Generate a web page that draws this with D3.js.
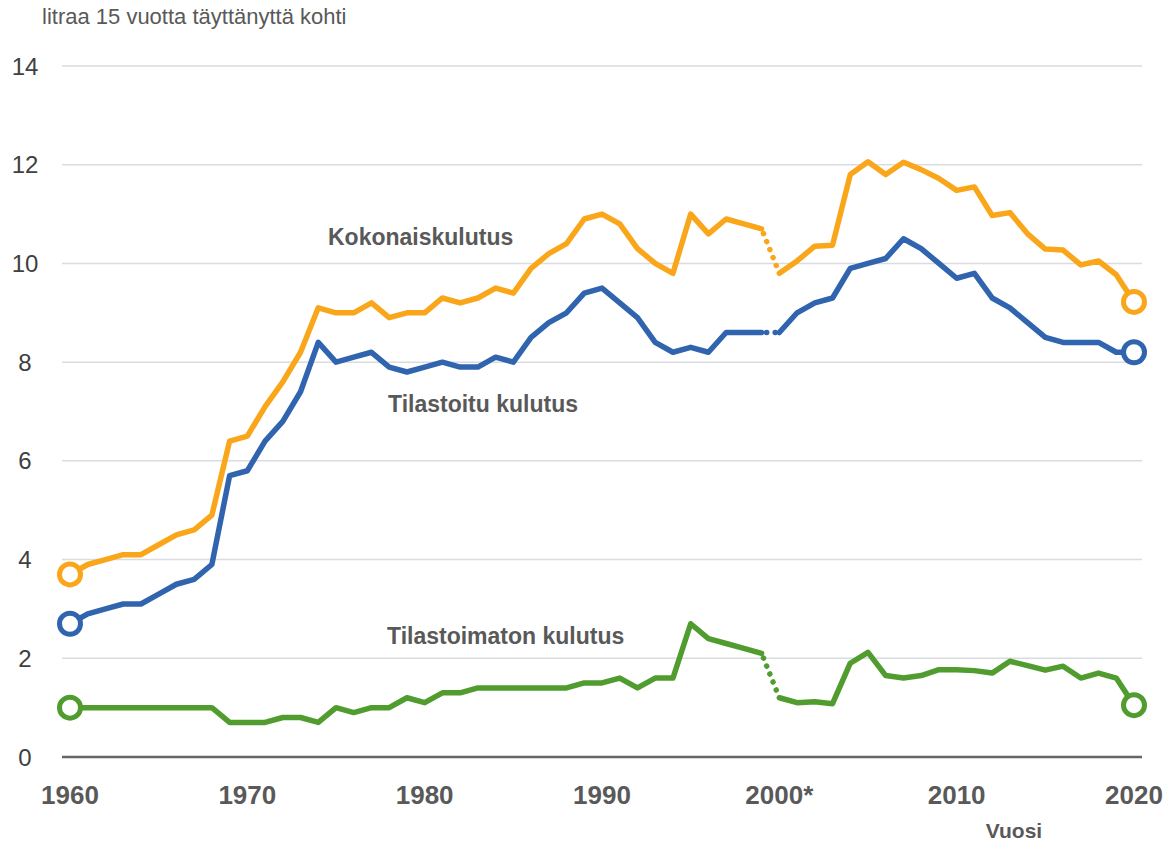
<!DOCTYPE html>
<html>
<head>
<meta charset="utf-8">
<script src="https://cdn.jsdelivr.net/npm/d3@7"></script>
<style>
  body { margin: 0; background: #fff; }
  svg text { font-family: "Liberation Sans", Arial, sans-serif; }
</style>
</head>
<body>
<div id="chart"></div>
<script>
// Data
var years = d3.range(1960, 2021);

var total = [3.7, 3.9, 4.0, 4.1, 4.1, 4.3, 4.5, 4.6, 4.9, 6.4,
  6.5, 7.1, 7.6, 8.2, 9.1, 9.0, 9.0, 9.2, 8.9, 9.0,
  9.0, 9.3, 9.2, 9.3, 9.5, 9.4, 9.9, 10.2, 10.4, 10.9,
  11.0, 10.8, 10.3, 10.0, 9.8, 11.0, 10.6, 10.9, 10.8, 10.7,
  9.8, 10.05, 10.35, 10.37, 11.8, 12.06, 11.8, 12.05, 11.9, 11.72,
  11.48, 11.55, 10.97, 11.03, 10.6, 10.29, 10.27, 9.97, 10.05, 9.77,
  9.22];

var registered = [2.7, 2.9, 3.0, 3.1, 3.1, 3.3, 3.5, 3.6, 3.9, 5.7,
  5.8, 6.4, 6.8, 7.4, 8.4, 8.0, 8.1, 8.2, 7.9, 7.8,
  7.9, 8.0, 7.9, 7.9, 8.1, 8.0, 8.5, 8.8, 9.0, 9.4,
  9.5, 9.2, 8.9, 8.4, 8.2, 8.3, 8.2, 8.6, 8.6, 8.6,
  8.6, 9.0, 9.2, 9.3, 9.9, 10.0, 10.1, 10.5, 10.3, 10.0,
  9.7, 9.8, 9.3, 9.1, 8.8, 8.5, 8.4, 8.4, 8.4, 8.2,
  8.2];

var unregistered = [1.0, 1.0, 1.0, 1.0, 1.0, 1.0, 1.0, 1.0, 1.0, 0.7,
  0.7, 0.7, 0.8, 0.8, 0.7, 1.0, 0.9, 1.0, 1.0, 1.2,
  1.1, 1.3, 1.3, 1.4, 1.4, 1.4, 1.4, 1.4, 1.4, 1.5,
  1.5, 1.6, 1.4, 1.6, 1.6, 2.7, 2.4, 2.3, 2.2, 2.1,
  1.2, 1.1, 1.12, 1.08, 1.9, 2.12, 1.65, 1.6, 1.65, 1.77,
  1.77, 1.75, 1.7, 1.94, 1.85, 1.76, 1.84, 1.6, 1.7, 1.6,
  1.05];

var yTicks = [0, 2, 4, 6, 8, 10, 12, 14];
var xTicks = [1960, 1970, 1980, 1990, 2000, 2010, 2020];
var xTickLabels = ["1960", "1970", "1980", "1990", "2000*", "2010", "2020"];

var seriesNames = ["Kokonaiskulutus", "Tilastoitu kulutus", "Tilastoimaton kulutus"];
var seriesData = [total, registered, unregistered];
var seriesColors = ["#FAA61A", "#3064AE", "#519C2F"];
var breakYear = 1999; // dotted link 1999 -> 2000

// Section: setup
var width = 1172;
var height = 845;

var svg = d3.select("#chart")
  .append("svg")
  .attr("width", width)
  .attr("height", height);

var x = d3.scaleLinear().domain([1960, 2020]).range([70, 1134]);
var y = d3.scaleLinear().domain([0, 14]).range([757, 66]);

// grid lines
svg.append("g")
  .selectAll("line")
  .data(yTicks.filter(function(d) { return d > 0; }))
  .enter()
  .append("line")
  .attr("x1", 62)
  .attr("x2", 1142)
  .attr("y1", function(d) { return y(d); })
  .attr("y2", function(d) { return y(d); })
  .attr("stroke", "#D9DCE1")
  .attr("stroke-width", 1.5);

// y tick labels
svg.append("g")
  .selectAll("text")
  .data(yTicks)
  .enter()
  .append("text")
  .attr("x", 25)
  .attr("y", function(d) { return y(d) + 8.5; })
  .attr("text-anchor", "middle")
  .attr("font-size", 24)
  .attr("fill", "#404040")
  .text(function(d) { return d; });

// x axis line
svg.append("line")
  .attr("x1", 62)
  .attr("x2", 1142)
  .attr("y1", y(0))
  .attr("y2", y(0))
  .attr("stroke", "#666")
  .attr("stroke-width", 2.5);

// x tick labels
svg.append("g")
  .selectAll("text")
  .data(xTicks)
  .enter()
  .append("text")
  .attr("x", function(d) { return x(d); })
  .attr("y", 804)
  .attr("text-anchor", "middle")
  .attr("font-size", 26)
  .attr("font-weight", "bold")
  .attr("fill", "#595959")
  .text(function(d, i) { return xTickLabels[i]; });

// title & axis title
svg.append("text")
  .attr("x", 42)
  .attr("y", 24)
  .attr("font-size", 22)
  .attr("fill", "#595959")
  .text("litraa 15 vuotta täyttänyttä kohti");

svg.append("text")
  .attr("x", 1014)
  .attr("y", 838)
  .attr("text-anchor", "middle")
  .attr("font-size", 21)
  .attr("font-weight", "bold")
  .attr("fill", "#595959")
  .text("Vuosi");

// lines
var line = d3.line()
  .x(function(d) { return x(d[0]); })
  .y(function(d) { return y(d[1]); });

seriesData.forEach(function(vals, s) {
  var pts = years.map(function(yr, i) { return [yr, vals[i]]; });
  var before = pts.filter(function(p) { return p[0] <= breakYear; });
  var after = pts.filter(function(p) { return p[0] >= breakYear + 1; });
  var link = pts.filter(function(p) { return p[0] === breakYear || p[0] === breakYear + 1; });

  [before, after].forEach(function(seg) {
    svg.append("path")
      .datum(seg)
      .attr("d", line)
      .attr("fill", "none")
      .attr("stroke", seriesColors[s])
      .attr("stroke-width", 5.5)
      .attr("stroke-linejoin", "round")
      .attr("stroke-linecap", "round");
  });

  svg.append("path")
    .datum(link)
    .attr("d", line)
    .attr("fill", "none")
    .attr("stroke", seriesColors[s])
    .attr("stroke-width", 5.5)
    .attr("stroke-linecap", "round")
    .attr("stroke-dasharray", "0.1,8.5")
    .attr("stroke-dashoffset", -5);

  // end markers
  [pts[0], pts[pts.length - 1]].forEach(function(p) {
    svg.append("circle")
      .attr("cx", x(p[0]))
      .attr("cy", y(p[1]))
      .attr("r", 10.5)
      .attr("fill", "#fff")
      .attr("stroke", seriesColors[s])
      .attr("stroke-width", 5);
  });
});

// series labels
var labelPos = [[328, 245], [388, 412], [387, 644]];
svg.append("g")
  .selectAll("text")
  .data(seriesNames)
  .enter()
  .append("text")
  .attr("x", function(d, i) { return labelPos[i][0]; })
  .attr("y", function(d, i) { return labelPos[i][1]; })
  .attr("font-size", 23)
  .attr("font-weight", "bold")
  .attr("fill", "#595959")
  .text(function(d) { return d; });
</script>
</body>
</html>
